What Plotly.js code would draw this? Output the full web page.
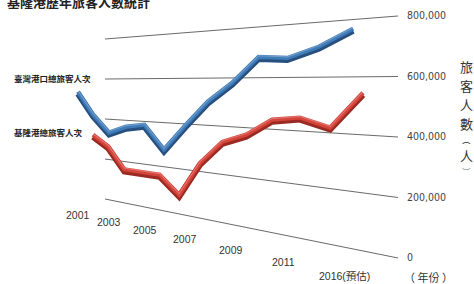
<!DOCTYPE html>
<html><head><meta charset="utf-8">
<script src="https://cdn.plot.ly/plotly-3.0.1.min.js"></script>
<style>html,body{margin:0;padding:0;background:#fff;overflow:hidden}#chart{width:474px;height:284px}</style>
</head><body><div id="chart"></div>
<script>
// ---- data ----
const years = ['2001','2002','2003','2004','2005','2006','2007','2008','2009','2010','2011','2015','2016(預估)'];
const taiwanTotal = [533000, 418000, 333000, 368000, 383000, 277000, 391000, 499000, 579000, 681000, 673000, 710000, 767000];
const keelungTotal = [314000, 264000, 161000, 162000, 160000, 84000, 236000, 334000, 371000, 436000, 449000, 418000, 544000];
const seriesNames = ['臺灣港口總旅客人次', '基隆港總旅客人次'];
const axisTicks = [0, 200000, 400000, 600000, 800000];
const axisTickLabels = ['0', '200,000', '400,000', '600,000', '800,000'];
const yearLabelYears = ['2001','2003','2005','2007','2009','2011','2016(預估)'];
const yAxisTitleChars = ['旅','客','人','數','︵','人','︶'];

// ---- perspective projection (layout) ----
const WALL_L = 105, WALL_R = 398;
function yZero(x){ return 199 + (x - WALL_L) * 59 / 293; }
function unit(x){ return (40 + (x - WALL_L) * 20.5 / 293) / 200000; }
function projY(x, v){ return yZero(x) - v * unit(x); }
function depthX(i, p){ return (p.a + p.b * i) / (1 + p.c * i); }
const blueP = {a:78, b:12.23, c:-0.0303};
const redP  = {a:93, b:12.1,  c:-0.02865};
const labP  = {a:78, b:12.72, c:-0.0276};

function ribbon(values, p, main, dark, name){
  const xs = values.map((v,i)=>depthX(i,p));
  const ys = values.map((v,i)=>projY(xs[i], v));
  return [
    {x: xs, y: ys.map(y=>y+1.8), mode:'lines', line:{color:dark, width:6}, hoverinfo:'skip', showlegend:false},
    {x: xs, y: ys.map(y=>y-0.3), mode:'lines', line:{color:main, width:4.2}, name:name, text: years, showlegend:false},
    {x: xs, y: ys.map(y=>y-1.4), mode:'lines', line:{color:'rgba(255,255,255,0.25)', width:1.2}, hoverinfo:'skip', showlegend:false}
  ];
}

const traces = [];
axisTicks.forEach(v=>{
  traces.push({x:[WALL_L, WALL_R], y:[projY(WALL_L,v), projY(WALL_R,v)], mode:'lines',
    line:{color:'#6a6a6a', width:1}, hoverinfo:'skip', showlegend:false});
});
traces.push(...ribbon(keelungTotal, redP, '#d5443a', '#9a2a22', seriesNames[1]));
traces.push(...ribbon(taiwanTotal, blueP, '#3f7bb8', '#27507e', seriesNames[0]));

const ann = [];
const numFont = {family:'DejaVu Sans Condensed, Liberation Sans Narrow, Liberation Sans, sans-serif', size:10.5, color:'#444'};
axisTicks.forEach((v,k)=>{
  ann.push({x:405, y:projY(WALL_R, v) - 1, xref:'x', yref:'y', text:axisTickLabels[k], showarrow:false,
    xanchor:'left', yanchor:'middle', font:numFont});
});
yearLabelYears.forEach(yr=>{
  const i = years.indexOf(yr);
  const x = depthX(i, labP);
  ann.push({x:x, y:215 + (x - 78) * 0.228, xref:'x', yref:'y', text:yr, showarrow:false,
    xanchor:'center', yanchor:'middle', font:{family:'Liberation Sans, Noto Sans CJK TC, sans-serif', size:10.5, color:'#333'}});
});
ann.push({x:12, y:78, xref:'x', yref:'y', text:'<b>'+seriesNames[0]+'</b>', showarrow:false, xanchor:'left', yanchor:'middle',
  font:{family:'Noto Sans CJK TC, sans-serif', size:8.5, color:'#222'}});
ann.push({x:12, y:132, xref:'x', yref:'y', text:'<b>'+seriesNames[1]+'</b>', showarrow:false, xanchor:'left', yanchor:'middle',
  font:{family:'Noto Sans CJK TC, sans-serif', size:8.5, color:'#222'}});
const titleYs = [66, 85, 104, 123, 139, 155, 171];
const titleSizes = [13, 13, 13, 13, 8.5, 13, 8.5];
yAxisTitleChars.forEach((ch,k)=>{
  ann.push({x:466, y:titleYs[k], xref:'x', yref:'y', text:ch, showarrow:false, xanchor:'center', yanchor:'middle',
    font:{family:'Noto Sans CJK TC, sans-serif', size:titleSizes[k], color:'#333'}});
});
ann.push({x:428, y:277, xref:'x', yref:'y', text:'（ 年份 ）', showarrow:false, xanchor:'center', yanchor:'middle',
  font:{family:'Noto Sans CJK TC, sans-serif', size:11, color:'#333'}});
ann.push({x:5, y:1, xref:'x', yref:'y', text:'<b>基隆港歷年旅客人數統計</b>', showarrow:false, xanchor:'left', yanchor:'middle',
  font:{family:'Noto Sans CJK TC, sans-serif', size:13, color:'#222'}});

const layout = {
  width:474, height:284, margin:{l:0,r:0,t:0,b:0},
  paper_bgcolor:'#fff', plot_bgcolor:'#fff', showlegend:false,
  xaxis:{range:[0,474], visible:false, fixedrange:true},
  yaxis:{range:[284,0], visible:false, fixedrange:true},
  annotations: ann
};
Plotly.newPlot('chart', traces, layout, {staticPlot:true, displayModeBar:false});
</script></body></html>
